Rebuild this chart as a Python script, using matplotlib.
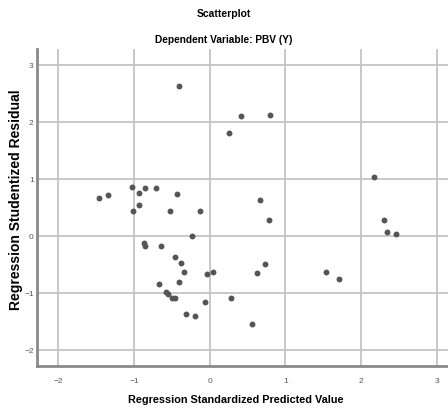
import numpy as np
import matplotlib.pyplot as plt

plt.rcParams['font.family'] = ['Liberation Sans', 'DejaVu Sans']

# standardized predicted value (x) and studentized residual (y)
pred = [-0.41, 0.42, 0.80, 0.25, 2.17, 0.66, 0.78, 2.31, 2.34, 2.46,
        0.73, -1.46, -1.34, -1.03, -0.93, -0.85, -0.71, -0.43, -1.01, -0.93,
        -0.53, -0.13, -0.23, -0.87, -0.85, -0.65, -0.46, -0.38, -0.34, -0.04,
        0.04, -0.40, -0.67, -0.58, -0.55, -0.50, -0.46, -0.06, -0.31, -0.19,
        0.62, 0.28, 0.56, 1.54, 1.71]
resid = [2.63, 2.11, 2.12, 1.81, 1.04, 0.63, 0.28, 0.28, 0.07, 0.035,
         -0.50, 0.67, 0.72, 0.86, 0.76, 0.84, 0.85, 0.73, 0.43, 0.54,
         0.44, 0.43, 0.00, -0.13, -0.17, -0.17, -0.36, -0.47, -0.63, -0.67,
         -0.63, -0.81, -0.84, -0.99, -1.01, -1.08, -1.08, -1.15, -1.36, -1.41,
         -0.65, -1.09, -1.54, -0.64, -0.76]

xticks = [-2, -1, 0, 1, 2, 3]
yticks = [-2, -1, 0, 1, 2, 3]

fig = plt.figure(figsize=(4.48, 4.10), dpi=100)
ax = fig.add_axes([0.083, 0.105, 0.917, 0.773])

ax.scatter(pred, resid, s=18, color='#555555', zorder=3, linewidths=0)

ax.set_xlim(-2.28, 3.15)
ax.set_ylim(-2.28, 3.28)
ax.set_xticks(xticks)
ax.set_yticks(yticks)
ax.grid(True, color='#c4c4c4', linewidth=1.3)
ax.set_axisbelow(True)

for s in ['top', 'right']:
    ax.spines[s].set_visible(False)
for s in ['left', 'bottom']:
    ax.spines[s].set_color('#8a8a8a')
    ax.spines[s].set_linewidth(2)

ax.tick_params(length=0, labelsize=6, labelcolor='#555555')
ax.tick_params(axis='x', pad=8)
ax.tick_params(axis='y', pad=2.5)

fig.text(0.527, 0.025, 'Regression Standardized Predicted Value', ha='center',
         va='center', fontsize=7.8, fontweight='bold')
fig.text(0.036, 0.513, 'Regression Studentized Residual', ha='center',
         va='center', rotation=90, fontsize=10, fontweight='bold')

fig.text(0.5, 0.965, 'Scatterplot', ha='center', va='center',
         fontsize=7.5, fontweight='bold')
fig.text(0.5, 0.902, 'Dependent Variable: PBV (Y)', ha='center', va='center',
         fontsize=7.3, fontweight='bold')

fig.savefig('out.png', dpi=100)
